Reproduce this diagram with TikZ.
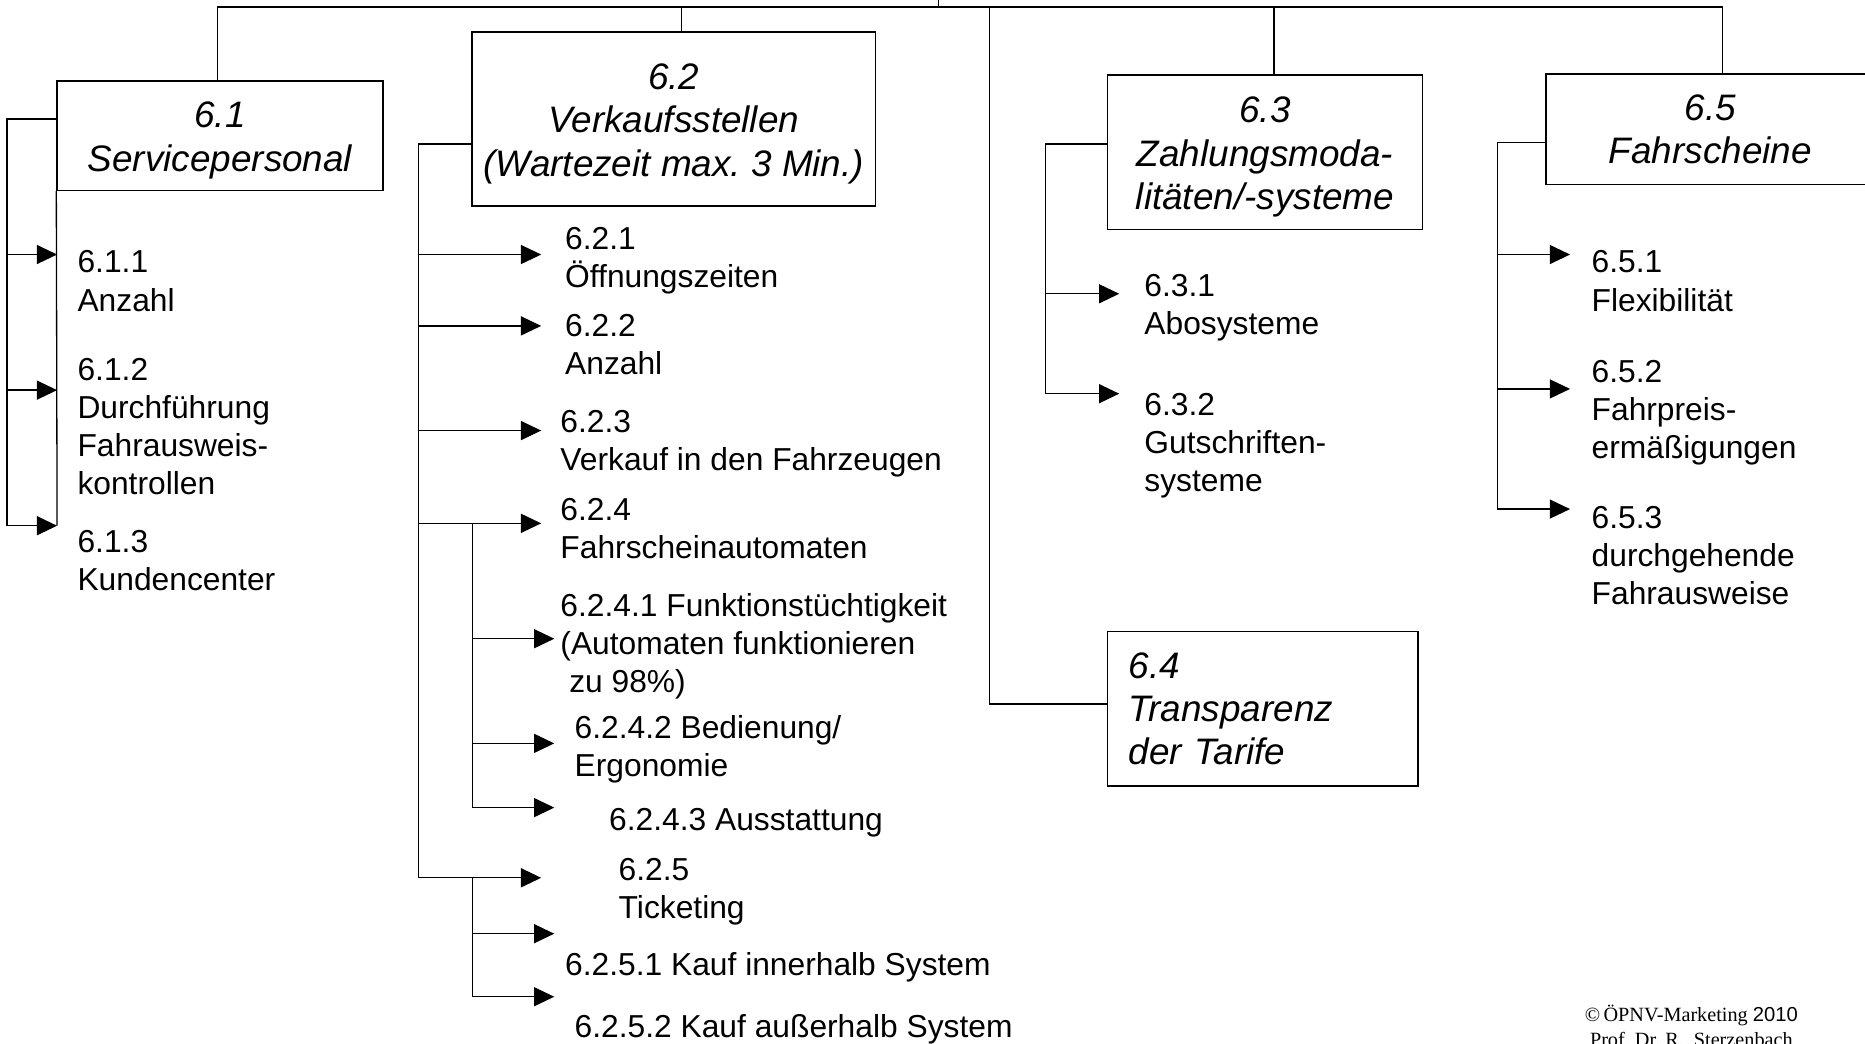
\documentclass[tikz,border=0pt]{standalone}
\usepackage{fontspec}
\setmainfont{Liberation Sans}
\newfontfamily\serifcopy{Liberation Serif}
\usetikzlibrary{arrows.meta}
\frenchspacing

\newcommand{\toppad}{\rule{0pt}{30pt}}

\begin{document}
\begin{tikzpicture}[
    x=1pt, y=-1pt,
    >={Triangle[length=17pt,width=16pt]},
    line/.style={line width=1.1pt},
    arrow/.style={->, line width=1.1pt},
    head/.style={draw, line width=1.3pt, inner sep=0pt, align=center, font=\fontsize{31}{36.5}\selectfont\itshape},
    item/.style={anchor=base west, inner sep=0pt, align=left, font=\fontsize{26.7}{32}\selectfont}
]
  \useasboundingbox (0,0) rectangle (1568,877);
  \clip (0,0) rectangle (1568,877);

  % Boxes
  \node[head, minimum width=274pt, minimum height=92pt]  (b61) at (185,114)    {\toppad 6.1\\Servicepersonal};
  \node[head, minimum width=339pt, minimum height=146pt] (b62) at (566.5,100)  {\toppad 6.2\\Verkaufsstellen\\(Wartezeit max. 3 Min.)};
  \node[head, minimum width=265pt, minimum height=130pt] (b63) at (1063.5,128) {\toppad 6.3\\Zahlungsmoda-\\litäten/-systeme};
  \node[head, minimum width=261pt, minimum height=130pt, text width=225pt, inner xsep=18pt, align=left] (b64) at (1061.5,596) {6.4\\Transparenz\\der Tarife};
  \node[head, minimum width=276pt, minimum height=93pt]  (b65) at (1438,108.5) {6.5\\Fahrscheine};

  % Top bar
  \coordinate (root) at (789,0);
  \coordinate (j61) at (183,6);
  \coordinate (j62) at (573,6);
  \coordinate (j64) at (832,6);
  \coordinate (j63) at (1071,6);
  \coordinate (j65) at (1448,6);
  \draw[line] (root) -- (root |- j61);
  \draw[line] (j61 |- b61.north) -- (j61) -- (j65) -- (j65 |- b65.north);
  \draw[line] (j62) -- (j62 |- b62.north);
  \draw[line] (j63) -- (j63 |- b63.north);
  \draw[line] (j64) |- ([yshift=4pt]b64.west);

  % 6.1
  \coordinate (k61) at (6,100);
  \coordinate (t611) at (48,214);
  \coordinate (t612) at (48,328);
  \coordinate (t613) at (48,442);
  \draw[line] (b61.west |- k61) -- (k61) -- (k61 |- t613);
  \draw[line] (b61.south west) -- (t613);
  \foreach \t in {t611,t612,t613}
    \draw[arrow] (k61 |- \t) -- (\t);
  \node[item] (i611) at (65,261.5) {6.1.1\\Anzahl};
  \node[item] (i612) at (65,415.5) {6.1.2\\Durchführung\\Fahrausweis-\\kontrollen};
  \node[item] (i613) at (65,496.5) {6.1.3\\Kundencenter};

  % 6.2
  \coordinate (k62) at (352,121);
  \coordinate (t621) at (455,214);
  \coordinate (t622) at (455,274);
  \coordinate (t623) at (455,362);
  \coordinate (t624) at (455,440);
  \coordinate (t625) at (455,738);
  \draw[line] (b62.west |- k62) -- (k62) -- (k62 |- t625);
  \foreach \t in {t621,t622,t623,t624,t625}
    \draw[arrow] (k62 |- \t) -- (\t);
  \coordinate (k624) at (397,440);
  \coordinate (t6241) at (466,537);
  \coordinate (t6242) at (466,625);
  \coordinate (t6243) at (466,679);
  \draw[line] (k624) -- (k624 |- t6243);
  \foreach \t in {t6241,t6242,t6243}
    \draw[arrow] (k624 |- \t) -- (\t);
  \coordinate (k625) at (397,738);
  \coordinate (t6251) at (466,785);
  \coordinate (t6252) at (466,838);
  \draw[line] (k625) -- (k625 |- t6252);
  \foreach \t in {t6251,t6252}
    \draw[arrow] (k625 |- \t) -- (\t);
  \node[item] (i621)  at (475,241.5) {6.2.1\\Öffnungszeiten};
  \node[item] (i622)  at (475,314.5) {6.2.2\\Anzahl};
  \node[item] (i623)  at (471,395.5) {6.2.3\\Verkauf in den Fahrzeugen};
  \node[item] (i624)  at (471,469.5) {6.2.4\\Fahrscheinautomaten};
  \node[item] (i6241) at (471,582.5) {6.2.4.1 Funktionstüchtigkeit\\(Automaten funktionieren\\\hspace*{0.28em}zu 98\%)};
  \node[item] (i6242) at (483,652.5) {6.2.4.2 Bedienung/\\Ergonomie};
  \node[item] (i6243) at (512,698.5) {6.2.4.3 Ausstattung};
  \node[item] (i625)  at (520,772.5) {6.2.5\\Ticketing};
  \node[item] (i6251) at (475,820.5) {6.2.5.1 Kauf innerhalb System};
  \node[item] (i6252) at (483,872.5) {6.2.5.2 Kauf außerhalb System};

  % 6.3
  \coordinate (k63) at (879,121);
  \coordinate (t631) at (941,247);
  \coordinate (t632) at (941,331);
  \draw[line] (b63.west |- k63) -- (k63) -- (k63 |- t632);
  \foreach \t in {t631,t632}
    \draw[arrow] (k63 |- \t) -- (\t);
  \node[item] (i631) at (962,281.5) {6.3.1\\Abosysteme};
  \node[item] (i632) at (962,413.5) {6.3.2\\Gutschriften-\\systeme};

  % 6.5
  \coordinate (k65) at (1259,120);
  \coordinate (t651) at (1320,214);
  \coordinate (t652) at (1320,327);
  \coordinate (t653) at (1320,428);
  \draw[line] (b65.west |- k65) -- (k65) -- (k65 |- t653);
  \foreach \t in {t651,t652,t653}
    \draw[arrow] (k65 |- \t) -- (\t);
  \node[item] (i651) at (1338,261.5) {6.5.1\\Flexibilität};
  \node[item] (i652) at (1338,385.5) {6.5.2\\Fahrpreis-\\ermäßigungen};
  \node[item] (i653) at (1338,508.5) {6.5.3\\durchgehende\\Fahrausweise};

  % Footer
  \node[anchor=base, inner sep=0pt, align=center, font=\serifcopy\fontsize{17}{21}\selectfont] (copy) at (1422,880)
    {\textcopyright\,ÖPNV-Marketing {\rmfamily 2010}\\Prof.\ Dr.\ R.\ \ Sterzenbach};
\end{tikzpicture}
\end{document}
